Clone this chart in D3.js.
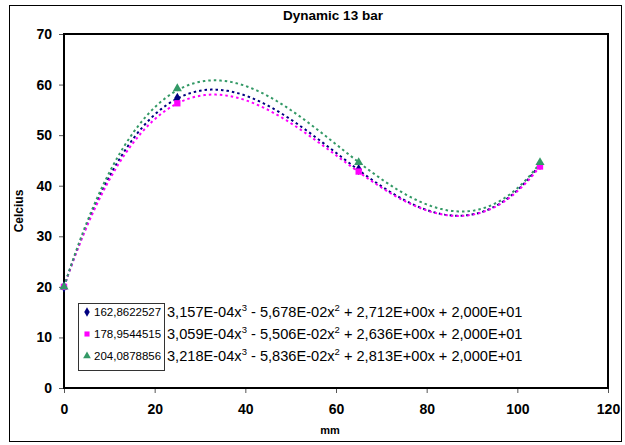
<!DOCTYPE html>
<html>
<head>
<meta charset="utf-8">
<script src="https://cdn.jsdelivr.net/npm/d3@7"></script>
<style>
  body { margin: 0; background: #fff; }
  text { font-family: Arial, "Liberation Sans", sans-serif; }
</style>
</head>
<body>
<div id="chart"></div>
<script>
// data
var seriesNames = ["162,8622527", "178,9544515", "204,0878856"];
var xValues = [0, 25, 65, 105];
var diamondValues = [20, 57.3, 43.2, 44.2];
var squareValues = [20, 56.3, 42.8, 43.8];
var triangleValues = [20, 59.2, 44.6, 44.6];
// trendline coefficients: a3, a2, a1, a0
var diamondCoef = [3.157e-4, -5.678e-2, 2.712, 20];
var squareCoef = [3.059e-4, -5.506e-2, 2.636, 20];
var triangleCoef = [3.218e-4, -5.836e-2, 2.813, 20];
var xTicks = [0, 20, 40, 60, 80, 100, 120];
var yTicks = [0, 10, 20, 30, 40, 50, 60, 70];

var colors = ["#000080", "#ff00ff", "#339966"];
var shapes = [d3.symbolDiamond, d3.symbolSquare, d3.symbolTriangle];
var allValues = [diamondValues, squareValues, triangleValues];
var allCoef = [diamondCoef, squareCoef, triangleCoef];

var width = 625, height = 445;
var margin = {top: 34, right: 17, bottom: 57, left: 64};

var svg = d3.select("#chart")
  .append("svg")
  .attr("width", width)
  .attr("height", height);

// outer frame
svg.append("rect")
  .attr("x", 9.5).attr("y", 5.5)
  .attr("width", 612).attr("height", 436)
  .attr("fill", "#fff")
  .attr("stroke", "#000")
  .attr("stroke-width", 1);

var x = d3.scaleLinear().domain([0, 120]).range([margin.left, width - margin.right]);
var y = d3.scaleLinear().domain([0, 70]).range([height - margin.bottom, margin.top]);

// title
svg.append("text")
  .attr("x", 333).attr("y", 20)
  .attr("text-anchor", "middle")
  .style("font-size", "13.5px").style("font-weight", "bold")
  .text("Dynamic 13 bar");

// axes
var xAxis = svg.append("g")
  .attr("transform", "translate(0," + y(0) + ")")
  .call(d3.axisBottom(x).tickValues(xTicks).tickSize(5).tickPadding(11));
var yAxis = svg.append("g")
  .attr("transform", "translate(" + x(0) + ",0)")
  .call(d3.axisLeft(y).tickValues(yTicks).tickSize(5).tickPadding(7));
[xAxis, yAxis].forEach(function(g) {
  g.select(".domain").remove();
  g.selectAll("line").attr("stroke", "#555");
  g.selectAll("text")
    .style("font-size", "14px").style("font-weight", "bold")
    .style("font-family", "Arial, 'Liberation Sans', sans-serif")
    .attr("fill", "#000");
});

// plot area border
svg.append("rect")
  .attr("x", x(0)).attr("y", y(70))
  .attr("width", x(120) - x(0)).attr("height", y(0) - y(70))
  .attr("fill", "none")
  .attr("stroke", "#000")
  .attr("stroke-width", 2);

// axis titles
svg.append("text")
  .attr("x", 330).attr("y", 434)
  .attr("text-anchor", "middle")
  .style("font-size", "11px").style("font-weight", "bold")
  .text("mm");
svg.append("text")
  .attr("transform", "translate(23," + ((y(0) + y(70)) / 2) + ") rotate(-90)")
  .attr("text-anchor", "middle")
  .style("font-size", "12px").style("font-weight", "bold")
  .text("Celcius");

// trendlines
function poly(c, t) { return c[0] * t * t * t + c[1] * t * t + c[2] * t + c[3]; }
var samples = d3.range(0, 105.01, 0.5);
var line = d3.line()
  .x(function(d) { return x(d[0]); })
  .y(function(d) { return y(d[1]); });

allCoef.forEach(function(c, i) {
  svg.append("path")
    .datum(samples.map(function(t) { return [t, poly(c, t)]; }))
    .attr("d", line)
    .attr("fill", "none")
    .attr("stroke", colors[i])
    .attr("stroke-width", 2)
    .attr("stroke-dasharray", "2.5,3");
});

// markers
allValues.forEach(function(vals, i) {
  svg.selectAll(".m" + i)
    .data(vals)
    .enter()
    .append("path")
      .attr("class", "m" + i)
      .attr("transform", function(d, j) { return "translate(" + x(xValues[j]) + "," + y(d) + ")"; })
      .attr("d", d3.symbol().type(shapes[i]).size(i == 1 ? 40 : 36))
      .attr("fill", colors[i]);
});

// legend
function fmt(v) {
  var s = Math.abs(v).toExponential(3).split("e");
  var exp = +s[1];
  var e = (exp < 0 ? "-" : "+") + (Math.abs(exp) < 10 ? "0" : "") + Math.abs(exp);
  return s[0].replace(".", ",") + "E" + e;
}
var legend = svg.append("g");
legend.append("rect")
  .attr("x", 78.5).attr("y", 303.5)
  .attr("width", 86).attr("height", 67)
  .attr("fill", "#fff")
  .attr("stroke", "#333")
  .attr("stroke-width", 1);

var rowY = [316, 338, 360];
seriesNames.forEach(function(name, i) {
  legend.append("path")
    .attr("transform", "translate(87," + (rowY[i] - 4) + ")")
    .attr("d", d3.symbol().type(shapes[i]).size(26))
    .attr("fill", colors[i]);
  legend.append("text")
    .attr("x", 94).attr("y", rowY[i])
    .style("font-size", "11.5px")
    .text(name);

  var c = allCoef[i];
  var t = legend.append("text")
    .attr("x", 167).attr("y", rowY[i] + 1)
    .style("font-size", "14.6px");
  t.append("tspan").text(fmt(c[0]) + "x");
  t.append("tspan").attr("dy", -6).style("font-size", "9.5px").text("3");
  t.append("tspan").attr("dy", 6).text(" " + (c[1] < 0 ? "-" : "+") + " " + fmt(c[1]) + "x");
  t.append("tspan").attr("dy", -6).style("font-size", "9.5px").text("2");
  t.append("tspan").attr("dy", 6).text(" " + (c[2] < 0 ? "-" : "+") + " " + fmt(c[2]) + "x " +
    (c[3] < 0 ? "-" : "+") + " " + fmt(c[3]));
});
</script>
</body>
</html>
